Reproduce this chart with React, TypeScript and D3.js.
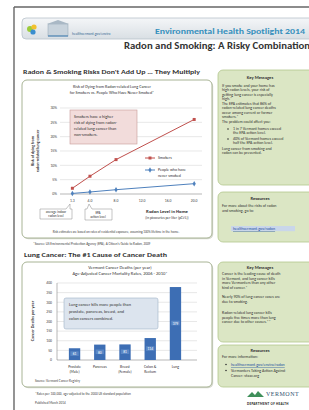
import React from "react";
import * as d3 from "d3";

// chart 1: radon vs smoking risk (EPA)
const radonLevels = [1.3, 4, 8, 20];
const smokerRisk = [2.0, 6.2, 12.0, 26.0];
const neverSmokerRisk = [0.2, 0.7, 1.5, 3.6];
const radonTicks = [1.3, 4, 8, 12, 16, 20];
const riskTicks = [0, 5, 10, 15, 20, 25, 30];

// chart 2: Vermont cancer deaths per year
const cancerSites = ["Prostate (Male)", "Pancreas", "Breast (Female)", "Colon & Rectum", "Lung"];
const siteLabels = [["Prostate", "(Male)"], ["Pancreas"], ["Breast", "(Female)"], ["Colon &", "Rectum"], ["Lung"]];
const cancerDeaths = [61, 80, 81, 114, 379];
const deathTicks = [0, 50, 100, 150, 200, 250, 300, 350, 400];

const keyMessages1 = [
  "If you smoke and your home has",
  "high radon levels, your risk of",
  "getting lung cancer is especially",
  "high.*",
  "The EPA estimates that 86% of",
  "radon-related lung cancer deaths",
  "occur among current or former",
  "smokers.*",
  "The problem could affect you:",
];
const bullets1 = [
  ["1 in 7 Vermont homes exceed", "the EPA action level."],
  ["40% of Vermont homes exceed", "half the EPA action level."],
];
const keyMessages1End = ["Lung cancer from smoking and", "radon can be prevented."];
const keyMessages2 = [
  ["Cancer is the leading cause of death", "in Vermont, and lung cancer kills", "more Vermonters than any other", "kind of cancer.*"],
  ["Nearly 90% of lung cancer cases are", "due to smoking."],
  ["Radon-related lung cancer kills", "people five times more than lung", "cancer due to other causes.**"],
];

const FONT = "Carlito, 'Liberation Sans', Arial, sans-serif";
const BODY = 4.0;

function Lines({ x, y, lines, dy, size, anchor = "start", weight = "normal", fill = "#333" }) {
  return (
    <text x={x} y={y} fontSize={size} textAnchor={anchor} fontWeight={weight} fill={fill} fontFamily={FONT}>
      {lines.map((l, i) => (
        <tspan key={i} x={x} dy={i === 0 ? 0 : dy}>
          {l}
        </tspan>
      ))}
    </text>
  );
}

function Panel({ x, y, w, h }) {
  return (
    <g>
      <rect x={x + 1.2} y={y + 1.2} width={w} height={h} rx={5} fill="#d6d9d0" />
      <rect x={x} y={y} width={w} height={h} rx={5} fill="#fff" stroke="#a8b495" strokeWidth={1} />
    </g>
  );
}

function GreenBox({ x, y, w, h }) {
  return <rect x={x} y={y} width={w} height={h} rx={5} fill="#dbe6c4" stroke="#b2c68e" strokeWidth={0.8} />;
}

function RiskChart() {
  const x = d3.scaleLinear().domain([-0.6, 21.2]).range([60, 202]);
  const y = d3.scaleLinear().domain([0, 30]).range([194, 108]);
  const line = d3
    .line<number>()
    .x((d, i) => x(radonLevels[i]))
    .y((d) => y(d));
  const sym = d3.symbol().type(d3.symbolSquare).size(9);
  const dia = d3.symbol().type(d3.symbolDiamond).size(9);
  return (
    <g fontFamily={FONT}>
      <Panel x={22} y={80} w={190} h={158} />
      <Lines x={112} y={88} size={4.2} anchor="middle" dy={5.5} lines={["Risk of Dying from Radon-related Lung Cancer", "for Smokers vs. People Who Have Never Smoked*"]} />
      {riskTicks.map((t) => (
        <g key={t}>
          <line x1={60} x2={202} y1={y(t)} y2={y(t)} stroke={t === 0 ? "#888" : "#d9d9d9"} strokeWidth={0.6} />
          <text x={57} y={y(t) + 1.3} fontSize={3.8} textAnchor="end" fill="#444">
            {t}%
          </text>
        </g>
      ))}
      {radonTicks.map((t) => (
        <text key={t} x={x(t)} y={202} fontSize={3.8} textAnchor="middle" fill="#444">
          {t.toFixed(1)}
        </text>
      ))}
      <text transform="translate(34,151) rotate(-90)" fontSize={4} fontWeight="bold" textAnchor="middle" fill="#333">
        <tspan x={0} dy={0}>Risk of dying from</tspan>
        <tspan x={0} dy={5}>radon-related lung cancer</tspan>
      </text>
      <path d={line(smokerRisk) || ""} fill="none" stroke="#c0504d" strokeWidth={1} />
      <path d={line(neverSmokerRisk) || ""} fill="none" stroke="#4f81bd" strokeWidth={1} />
      {smokerRisk.map((v, i) => (
        <path key={"s" + i} d={sym() || ""} transform={`translate(${x(radonLevels[i])},${y(v)})`} fill="#c0504d" />
      ))}
      {neverSmokerRisk.map((v, i) => (
        <path key={"n" + i} d={dia() || ""} transform={`translate(${x(radonLevels[i])},${y(v)})`} fill="#4f81bd" />
      ))}
      {/* annotation */}
      <rect x={70} y={110} width={67} height={34} fill="#f2dcdb" stroke="#c79a98" strokeWidth={0.6} />
      <Lines x={74} y={118} size={4.3} dy={6} lines={["Smokers have a higher", "risk of dying from radon-", "related lung cancer than", "non-smokers."]} />
      {/* legend */}
      <line x1={145} x2={155} y1={158} y2={158} stroke="#c0504d" strokeWidth={1} />
      <path d={sym() || ""} transform="translate(150,158)" fill="#c0504d" />
      <text x={158} y={159.4} fontSize={4} fill="#333">Smokers</text>
      <line x1={145} x2={155} y1={170} y2={170} stroke="#4f81bd" strokeWidth={1} />
      <path d={dia() || ""} transform="translate(150,170)" fill="#4f81bd" />
      <Lines x={158} y={171.4} size={4} dy={5.5} lines={["People who have", "never smoked"]} />
      {/* callouts */}
      <path d="M40,209 L66,209 L70,204 L70,209 L72,209 L72,219 L40,219 Z" fill="#fff" stroke="#888" strokeWidth={0.5} />
      <Lines x={56} y={213} size={3.4} anchor="middle" dy={4} lines={["average indoor", "radon level"]} />
      <path d="M85,209 L87,209 L89,204 L92,209 L112,209 L112,220 L85,220 Z" fill="#fff" stroke="#888" strokeWidth={0.5} />
      <Lines x={98} y={213.5} size={3.4} anchor="middle" dy={4} lines={["EPA", "action level"]} />
      <text x={167} y={213} fontSize={4.8} fontWeight="bold" textAnchor="middle" fill="#333">Radon Level in Home</text>
      <text x={167} y={218.5} fontSize={3.6} textAnchor="middle" fill="#333">(in picocuries per liter (pCi/L))</text>
      <text x={116} y={233} fontSize={3.3} textAnchor="middle" fill="#444">
        Risk estimates are based on rates of residential exposure, assuming 100% lifetime in the home.
      </text>
    </g>
  );
}

function DeathsChart() {
  const x = d3.scaleBand().domain(cancerSites).range([55, 195]).padding(0.55);
  const y = d3.scaleLinear().domain([0, 400]).range([360, 283]);
  return (
    <g fontFamily={FONT}>
      <Panel x={22} y={262} w={190} h={125} />
      <Lines x={120} y={269} size={4.6} anchor="middle" dy={6} lines={["Vermont Cancer Deaths (per year)", "Age-Adjusted Cancer Mortality Rates, 2006 - 2010*"]} />
      {deathTicks.map((t) => (
        <g key={t}>
          <line x1={57} x2={197} y1={y(t)} y2={y(t)} stroke={t === 0 ? "#888" : "#d9d9d9"} strokeWidth={0.6} />
          <text x={52} y={y(t) + 1.3} fontSize={3.8} textAnchor="end" fill="#444">{t}</text>
        </g>
      ))}
      <line x1={57} x2={57} y1={283} y2={360} stroke="#888" strokeWidth={0.6} />
      <text transform="translate(34,321) rotate(-90)" fontSize={4.2} fontWeight="bold" textAnchor="middle" fill="#333">
        Cancer Deaths per year
      </text>
      {cancerSites.map((c, i) => (
        <g key={c}>
          <rect x={x(c)} y={y(cancerDeaths[i])} width={x.bandwidth()} height={360 - y(cancerDeaths[i])} fill="#3d6eb4" />
          <rect x={(x(c) || 0) + 1.5} y={(y(cancerDeaths[i]) + 360) / 2 - 2.8} width={x.bandwidth() - 3} height={4.6} fill="#5b88c6" />
          <text x={(x(c) || 0) + x.bandwidth() / 2} y={(y(cancerDeaths[i]) + 360) / 2 + 1.2} fontSize={3.6} textAnchor="middle" fill="#fff">
            {cancerDeaths[i]}
          </text>
          <Lines x={(x(c) || 0) + x.bandwidth() / 2} y={368} size={3.8} anchor="middle" dy={5} lines={siteLabels[i]} />
        </g>
      ))}
      <rect x={64} y={298} width={94} height={31} rx={2} fill="#dce4ee" stroke="#9fb2c8" strokeWidth={0.6} />
      <Lines x={69} y={306} size={4.4} dy={7} lines={["Lung cancer kills more people than", "prostate, pancreas, breast, and", "colon cancers combined."]} />
      <text x={35} y={382} fontSize={3.4} fill="#444">Source: Vermont Cancer Registry</text>
    </g>
  );
}

function RightColumn() {
  return (
    <g fontFamily={FONT}>
      <GreenBox x={218} y={70} w={100} h={115} />
      <text x={260} y={79} fontSize={4.6} fontWeight="bold" textAnchor="middle" fill="#333">Key Messages</text>
      <Lines x={222} y={87} size={BODY} dy={4.3} lines={keyMessages1.slice(0, 4)} />
      <Lines x={222} y={105} size={BODY} dy={4.3} lines={keyMessages1.slice(4, 8)} />
      <Lines x={222} y={123} size={BODY} dy={4.3} lines={keyMessages1.slice(8)} />
      {bullets1.map((b, i) => (
        <g key={i}>
          <circle cx={228} cy={129 + i * 10} r={0.8} fill="#333" />
          <Lines x={233} y={130 + i * 10} size={BODY} dy={4.3} lines={b} />
        </g>
      ))}
      <Lines x={222} y={150} size={BODY} dy={4.3} lines={keyMessages1End} />

      <GreenBox x={218} y={192} w={100} h={50} />
      <text x={260} y={200} fontSize={4.6} fontWeight="bold" textAnchor="middle" fill="#333">Resources</text>
      <Lines x={222} y={207} size={BODY} dy={4.6} lines={["For more about the risks of radon", "and smoking, go to:"]} />
      <rect x={231} y={226} width={64} height={5.2} fill="#c9d6ea" />
      <text x={233} y={230} fontSize={BODY} fill="#1f4fa0" textDecoration="underline">healthvermont.gov/radon</text>

      <GreenBox x={218} y={262} w={100} h={80} />
      <text x={260} y={268.5} fontSize={4.6} fontWeight="bold" textAnchor="middle" fill="#333">Key Messages</text>
      <Lines x={222} y={275} size={BODY} dy={4.7} lines={keyMessages2[0]} />
      <Lines x={222} y={298} size={BODY} dy={4.7} lines={keyMessages2[1]} />
      <Lines x={222} y={314} size={BODY} dy={4.7} lines={keyMessages2[2]} />

      <GreenBox x={218} y={345} w={100} h={42} />
      <text x={260} y={351.5} fontSize={4.6} fontWeight="bold" textAnchor="middle" fill="#333">Resources</text>
      <text x={222} y={358} fontSize={BODY} fill="#333">For more information:</text>
      <circle cx={226} cy={364.5} r={0.8} fill="#333" />
      <text x={231} y={366} fontSize={BODY} fill="#1f4fa0" textDecoration="underline">healthvermont.gov/enviro/radon</text>
      <circle cx={226} cy={370.5} r={0.8} fill="#333" />
      <Lines x={231} y={372} size={BODY} dy={4.7} lines={["Vermonters Taking Action Against", "Cancer: vtaac.org"]} />

      {/* Vermont Department of Health logo */}
      <path d="M247,397 L252,392 L255,395 L258,391 L264,397 Z" fill="#3f8f5a" />
      <text x={266} y={396} fontSize={6} fontFamily="'Liberation Serif', serif" fill="#2f4f6f" letterSpacing={0.5}>VERMONT</text>
      <text x={247} y={404.5} fontSize={3.4} fontWeight="bold" fill="#222" letterSpacing={0.3}>DEPARTMENT OF HEALTH</text>
    </g>
  );
}

export default function App() {
  return (
    <svg width={309} height={410} style={{ position: "fixed", left: 0, top: 0, background: "#fff" }} fontFamily={FONT}>
      <rect width={309} height={410} fill="#fff" />
      {/* page frame */}
      <line x1={14} x2={309} y1={7} y2={7} stroke="#666" strokeWidth={1.4} />
      <line x1={14} x2={14} y1={7} y2={410} stroke="#666" strokeWidth={1.4} />
      {/* header bar */}
      <defs>
        <linearGradient id="hdr" x1="0" y1="0" x2="0" y2="1">
          <stop offset="0" stopColor="#f4f6f8" />
          <stop offset="1" stopColor="#d9dfe4" />
        </linearGradient>
      </defs>
      <rect x={22} y={18} width={300} height={21} rx={4} fill="url(#hdr)" stroke="#b8c2ca" strokeWidth={0.8} />
      <circle cx={30} cy={29} r={3} fill="#9ccb3b" />
      <circle cx={34} cy={27} r={2.6} fill="#f2c12e" />
      <circle cx={33} cy={32} r={2.6} fill="#3a8ecf" />
      <rect x={48} y={24} width={20} height={12} fill="#c8d3dc" stroke="#8fa3b3" strokeWidth={0.5} />
      <path d="M47,24 L58,20 L69,24 Z" fill="#a9b8c5" />
      <line x1={48} x2={68} y1={36} y2={36} stroke="#3a7ab0" strokeWidth={1} />
      <text x={72} y={35} fontSize={3.6} fill="#3a6a94">healthvermont.gov/enviro</text>
      <text x={155} y={34} fontSize={7.6} fontWeight="bold" fill="#3690bd" textLength={150} lengthAdjust="spacingAndGlyphs">
        Environmental Health Spotlight 2014
      </text>
      <text x={124} y={49} fontSize={9.6} fontWeight="bold" fill="#333" textLength={186} lengthAdjust="spacingAndGlyphs">
        Radon and Smoking: A Risky Combination
      </text>
      <text x={23} y={74} fontSize={6.4} fontWeight="bold" fill="#333" textLength={177} lengthAdjust="spacingAndGlyphs">
        Radon &amp; Smoking Risks Don't Add Up … They Multiply
      </text>
      <RiskChart />
      <text x={33} y={245} fontSize={3.4} fill="#444">
        *Source: US Environmental Protection Agency (EPA), A Citizen's Guide to Radon, 2009
      </text>
      <text x={24} y={257} fontSize={6.4} fontWeight="bold" fill="#333" textLength={143} lengthAdjust="spacingAndGlyphs">
        Lung Cancer: The #1 Cause of Cancer Death
      </text>
      <DeathsChart />
      <text x={35} y={395} fontSize={3.4} fill="#444">*Rates per 100,000, age-adjusted to the 2000 US standard population</text>
      <text x={35} y={404} fontSize={3.4} fill="#444">Published March 2014</text>
      <RightColumn />
    </svg>
  );
}
